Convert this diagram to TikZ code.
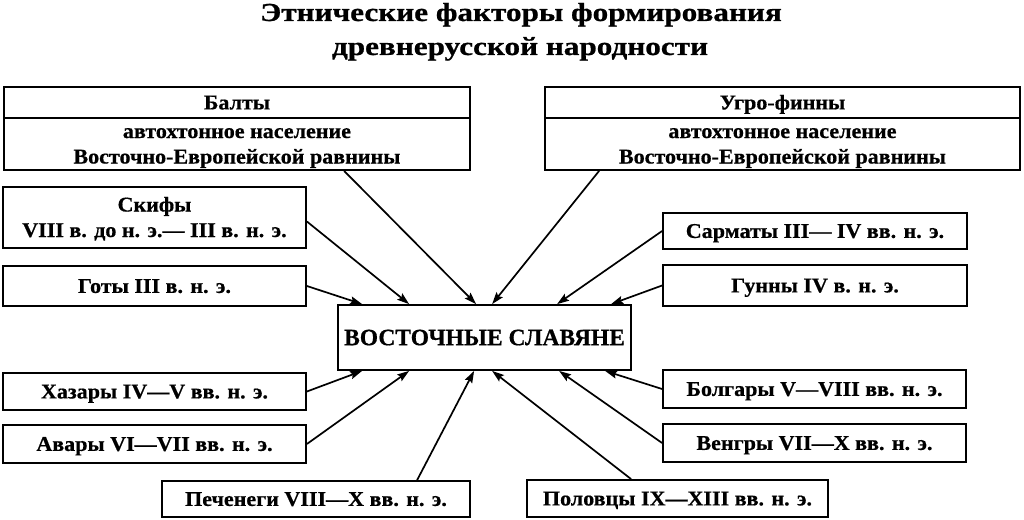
\documentclass[tikz,border=0pt]{standalone}
\usepackage{fontspec}
\setmainfont{Liberation Serif}[FakeStretch=1.05, BoldFeatures={FakeBold=0.6}]
\newfontfamily\ttlfont{Liberation Serif}[FakeStretch=1.2, BoldFeatures={FakeBold=0.8}]
\newfontfamily\vsfont{Liberation Serif}[BoldFeatures={FakeBold=0.6}]
\usetikzlibrary{arrows.meta}
\newcommand{\twoln}[2]{\rule{0pt}{18.5pt}#1\\#2\rule[-5pt]{0pt}{5pt}}
\tikzset{
  box/.style={draw, line width=1.8pt, inner sep=0pt, align=center, font=\bfseries\fontsize{21}{25.5}\selectfont},
  one/.style={text height=13.8pt, text depth=0pt},
  conn/.style={line width=1.7pt, -{Stealth[length=12pt,width=8pt,inset=2pt]}},
  ttl/.style={font=\ttlfont\bfseries\fontsize{26}{30}\selectfont, inner sep=0pt, anchor=base}
}
\begin{document}
\begin{tikzpicture}[x=1pt,y=-1pt]
\useasboundingbox (0,0) rectangle (1024,519);
\node[ttl] (t1) at (521,21) {Этнические факторы формирования};
\node[ttl] (t2) at (520,55) {древнерусской народности};
% top wide boxes
\node[box, one, minimum width=466pt, minimum height=31pt] (balty) at (237,102.5) {Балты};
\node[box, minimum width=466pt, minimum height=52pt] (baltyd) at (237,144) {\twoln{автохтонное население}{Восточно-Европейской равнины}};
\node[box, one, minimum width=475pt, minimum height=31pt] (ugro) at (782.5,102.5) {Угро-финны};
\node[box, minimum width=475pt, minimum height=52pt] (ugrod) at (782.5,144) {\twoln{автохтонное население}{Восточно-Европейской равнины}};
% left
\node[box, minimum width=303pt, minimum height=61pt] (skify) at (154.5,217.5) {\twoln{Скифы}{VIII в. до н. э.— III в. н. э.}};
\node[box, one, minimum width=303pt, minimum height=40pt] (goty) at (154.5,286) {Готы III в. н. э.};
\node[box, one, minimum width=303pt, minimum height=37pt] (hazary) at (154.5,391.5) {Хазары IV—V вв. н. э.};
\node[box, one, minimum width=303pt, minimum height=38pt] (avary) at (154.5,444) {Авары VI—VII вв. н. э.};
\node[box, one, minimum width=308pt, minimum height=36pt] (pechenegi) at (316,499) {Печенеги VIII—X вв. н. э.};
% right
\node[box, one, minimum width=304pt, minimum height=36pt] (sarmaty) at (815,231) {Сарматы III— IV вв. н. э.};
\node[box, one, minimum width=304pt, minimum height=41pt] (gunny) at (815,285.5) {Гунны IV в. н. э.};
\node[box, one, minimum width=303pt, minimum height=38pt] (bolgary) at (814.5,389) {Болгары V—VIII вв. н. э.};
\node[box, one, minimum width=303pt, minimum height=38pt] (vengry) at (814.5,443) {Венгры VII—X вв. н. э.};
\node[box, one, minimum width=301pt, minimum height=37pt] (polovtsy) at (677.5,498.5) {Половцы IX—XIII вв. н. э.};
% centre
\node[box, minimum width=293pt, minimum height=65pt, text height=15.4pt, text depth=0pt, font=\vsfont\bfseries\fontsize{23.5}{26}\selectfont] (vs) at (484.5,337.5) {ВОСТОЧНЫЕ СЛАВЯНЕ};
% connectors
\draw[conn] ([xshift=341pt]baltyd.south west) -- ([xshift=139pt]vs.north west);
\draw[conn] ([xshift=55pt]ugrod.south west) -- ([xshift=155pt]vs.north west);
\draw[conn] ([yshift=-4pt]skify.east) -- ([xshift=72pt]vs.north west);
\draw[conn] (goty.east) -- ([xshift=25pt]vs.north west);
\draw[conn] (sarmaty.west) -- ([xshift=220pt]vs.north west);
\draw[conn] (gunny.west) -- ([xshift=274pt]vs.north west);
\draw[conn] (hazary.east) -- ([xshift=25pt]vs.south west);
\draw[conn] (avary.east) -- ([xshift=72pt]vs.south west);
\draw[conn] ([xshift=256pt]pechenegi.north west) -- ([xshift=137pt]vs.south west);
\draw[conn] ([xshift=105pt]polovtsy.north west) -- ([xshift=155pt]vs.south west);
\draw[conn] (vengry.west) -- ([xshift=222pt]vs.south west);
\draw[conn] (bolgary.west) -- ([xshift=268pt]vs.south west);
\end{tikzpicture}
\end{document}
